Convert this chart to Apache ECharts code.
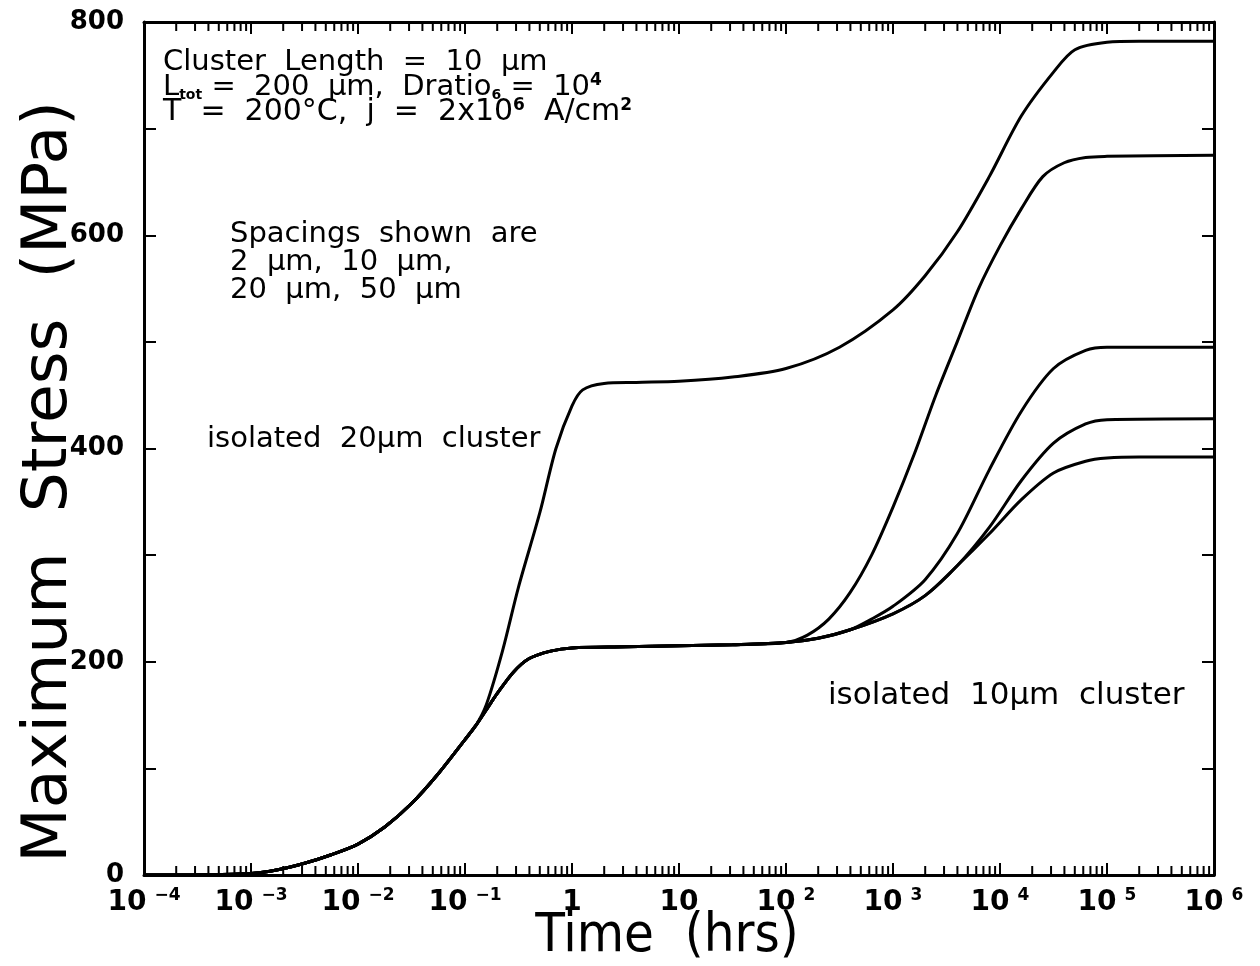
<!DOCTYPE html>
<html><head><meta charset="utf-8">
<script src="https://cdn.jsdelivr.net/npm/echarts@6/dist/echarts.min.js"></script>
<style>html,body{margin:0;padding:0;background:#fff}#c{width:1260px;height:966px}</style>
</head><body><div id="c"></div><script>
// x values are log10(time in hours)
const decadeExps = [-4,-3,-2,-1,0,1,2,3,4,5,6];
const stressTickLabels = [0,200,400,600,800];
const minorMultipliers = [2,3,4,5,6,7,8,9];

// shared early rise (all curves coincide)
const earlyExp    = [-4, -3.5, -3, -2.75, -2.5, -2.25, -2, -1.75, -1.5, -1.25, -1, -0.9];
const earlyStress = [0, 0.3, 1.5, 5, 11, 19, 29, 45, 67, 95, 127, 140];

// isolated 20 um cluster (upper)
const iso20Exp    = [-0.8, -0.65, -0.5, -0.3, -0.15, 0, 0.1, 0.3, 0.6, 1, 1.5, 2, 2.5, 3, 3.3, 3.6, 3.9, 4.2, 4.5, 4.7, 5.0, 5.3, 6];
const iso20Stress = [160, 210, 270, 340, 400, 440, 455, 461, 462, 463, 467, 475, 495, 530, 562, 603, 655, 712, 753, 774, 781, 782, 782];

// 10 um plateau (shared by lower family)
const plateauExp    = [-0.8, -0.7, -0.55, -0.4, -0.2, 0, 0.5, 1, 1.5, 2];
const plateauStress = [155, 170, 190, 203, 210, 213, 214, 215, 216, 218];

// branch -> 675
const branchBExp    = [2.2, 2.4, 2.6, 2.8, 3.0, 3.2, 3.4, 3.6, 3.8, 4.0, 4.2, 4.4, 4.6, 4.8, 5.0, 6];
const branchBStress = [225, 240, 265, 300, 345, 395, 450, 500, 550, 590, 625, 655, 668, 673, 674, 675];

// lower tail shared by C, D, E
const tailExp    = [2.3, 2.6];
const tailStress = [222, 230];

// branch -> 495
const branchCExp    = [2.8, 3.0, 3.3, 3.6, 3.9, 4.2, 4.5, 4.8, 5.0, 6];
const branchCStress = [240, 252, 277, 320, 380, 435, 475, 492, 495, 495];

// lowest (isolated 10 um) -> 392
const branchEExp    = [3.0, 3.3, 3.6, 3.9, 4.2, 4.5, 4.8, 5.0, 5.3, 6];
const branchEStress = [245, 262, 290, 320, 352, 377, 388, 391, 392, 392];

// branch -> 428 (splits from lowest)
const branchDExp    = [3.9, 4.2, 4.5, 4.8, 5.0, 6];
const branchDStress = [326, 370, 405, 423, 427, 428];

function pairs(xs, ys){ return xs.map((x,i)=>[x, ys[i]]); }
const early = pairs(earlyExp, earlyStress);
const plateau = pairs(plateauExp, plateauStress);
const tail = pairs(tailExp, tailStress);
const eBase = pairs(branchEExp, branchEStress).filter(p=>p[0] <= 3.6);

const curveA = early.concat(pairs(iso20Exp, iso20Stress));
const curveB = early.concat(plateau, pairs(branchBExp, branchBStress));
const curveC = early.concat(plateau, tail, pairs(branchCExp, branchCStress));
const curveE = early.concat(plateau, tail, pairs(branchEExp, branchEStress));
const curveD = early.concat(plateau, tail, eBase, pairs(branchDExp, branchDStress));

const minorTickPos = [];
for (let n = -4; n < 6; n++) for (const k of minorMultipliers) minorTickPos.push([n + Math.log10(k), 0]);

const chart = echarts.init(document.getElementById('c'), null, {renderer:'canvas'});
const axisCommon = {
  type:'value', min:-4, max:6, interval:1,
  axisLine:{show:true, onZero:false, lineStyle:{color:'#000', width:3}},
  axisTick:{show:true, inside:true, length:12, lineStyle:{color:'#000', width:2}},
  splitLine:{show:false}
};
function expLabel(v){
  if (v === 0) return '{b|1}';
  if (v === 1) return '{b|10}';
  return '{b|10}{s|' + (v < 0 ? '\u2212' + (-v) : v) + '}';
}
const lineSeries = (name, data) => ({
  name, type:'line', data, showSymbol:false, smooth:0.3,
  lineStyle:{color:'#000', width:3}, itemStyle:{color:'#000'}, z:3, silent:true
});
const tf = 'DejaVu Sans';
chart.setOption({
  animation:false,
  backgroundColor:'#fff',
  grid:{left:144, right:46, top:22, bottom:91, containLabel:false, outerBoundsMode:'none'},
  xAxis:[
    Object.assign({}, axisCommon, {
      position:'bottom',
      name:'Time  (hrs)', nameLocation:'middle', nameGap:35, nameMoveOverlap:false,
      nameTextStyle:{fontFamily:'DejaVu Sans Condensed', fontSize:54, color:'#000', fontWeight:'normal', padding:[0,24,0,0]},
      axisLabel:{show:true, margin:12, formatter:expLabel, rich:{
        b:{fontFamily:tf, fontSize:28, fontWeight:'bold', color:'#000', lineHeight:30, verticalAlign:'bottom'},
        s:{fontFamily:tf, fontSize:17, fontWeight:'bold', color:'#000', lineHeight:30, verticalAlign:'top', padding:[0,0,0,8]}
      }}
    }),
    Object.assign({}, axisCommon, {position:'top', axisLabel:{show:false}})
  ],
  yAxis:[
    {type:'value', min:0, max:800, interval:100, position:'left',
     axisLine:{show:true, onZero:false, lineStyle:{color:'#000', width:3}},
     axisTick:{show:true, inside:true, length:12, lineStyle:{color:'#000', width:2}},
     axisLabel:{show:true, margin:20, fontFamily:tf, fontSize:26, fontWeight:'bold', color:'#000',
       formatter:v => (v % 200 === 0 ? String(v) : '')},
     splitLine:{show:false}},
    {type:'value', min:0, max:800, interval:100, position:'right',
     axisLine:{show:true, onZero:false, lineStyle:{color:'#000', width:3}},
     axisTick:{show:true, inside:true, length:12, lineStyle:{color:'#000', width:2}},
     axisLabel:{show:false}, splitLine:{show:false}}
  ],
  series:[
    lineSeries('isolated 20um cluster', curveA),
    lineSeries('spacing B', curveB),
    lineSeries('spacing C', curveC),
    lineSeries('spacing D', curveD),
    lineSeries('isolated 10um cluster', curveE),
    {type:'custom', silent:true, clip:false, data:minorTickPos, encode:{x:0, y:1}, z:4,
     renderItem:function(params, api){
       const x = api.coord([api.value(0), 0])[0];
       const yb = api.coord([0, 0])[1];
       const yt = api.coord([0, 800])[1];
       return {type:'group', children:[
         {type:'line', shape:{x1:x, y1:yb, x2:x, y2:yb-9}, style:{stroke:'#000', lineWidth:2}},
         {type:'line', shape:{x1:x, y1:yt, x2:x, y2:yt+9}, style:{stroke:'#000', lineWidth:2}}
       ]};
     }}
  ],
  graphic:[
    {type:'text', x:50, y:482, rotation:Math.PI/2,
     style:{text:'Maximum  Stress  (MPa)', font:'63px "DejaVu Sans"', fill:'#000', align:'center', verticalAlign:'middle'}},
    {type:'text', left:163, top:48, style:{text:'Cluster  Length  =  10  µm', font:'29px "DejaVu Sans"', fill:'#000'}},
    {type:'text', left:163, top:72, style:{text:'{m|L}{sub|tot}{m| =  200  µm,  Dratio}{sub|6}{m| =  10}{sup|4}',
      rich:{m:{fontFamily:tf, fontSize:29, lineHeight:30, color:'#000'},
            sub:{fontFamily:tf, fontSize:14, fontWeight:'bold', lineHeight:30, verticalAlign:'bottom', color:'#000'},
            sup:{fontFamily:tf, fontSize:17, fontWeight:'bold', lineHeight:30, verticalAlign:'top', color:'#000'}}}},
    {type:'text', left:163, top:97, style:{text:'{m|T  =  200°C,  j  =  2x10}{sup|6}{m|  A/cm}{sup|2}',
      rich:{m:{fontFamily:tf, fontSize:30, lineHeight:30, color:'#000'},
            sup:{fontFamily:tf, fontSize:17, fontWeight:'bold', lineHeight:30, verticalAlign:'top', color:'#000'}}}},
    {type:'text', left:230, top:220, style:{text:'Spacings  shown  are\n2  µm,  10  µm,\n20  µm,  50  µm', font:'29px "DejaVu Sans"', lineHeight:28, fill:'#000'}},
    {type:'text', left:207, top:425, style:{text:'isolated  20µm  cluster', font:'29px "DejaVu Sans"', fill:'#000'}},
    {type:'text', left:828, top:680, style:{text:'isolated  10µm  cluster', font:'31px "DejaVu Sans"', fill:'#000'}}
  ]
});
</script></body></html>
